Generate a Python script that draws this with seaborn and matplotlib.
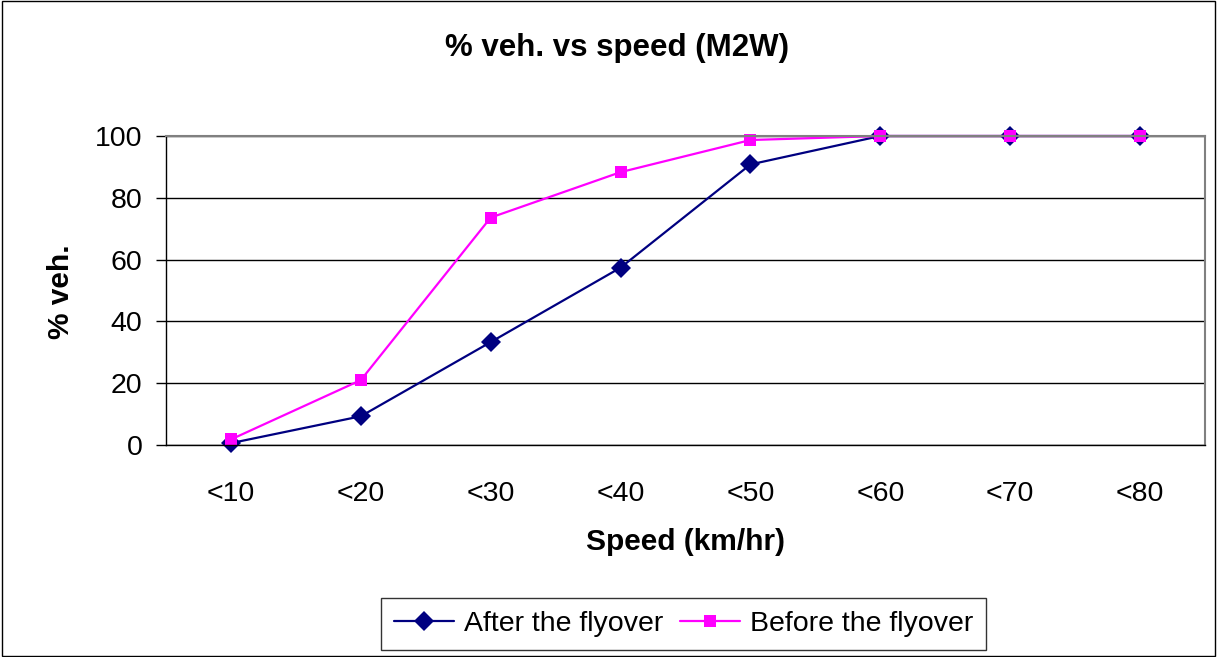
import matplotlib
matplotlib.use("Agg")
import matplotlib.pyplot as plt
import seaborn as sns
import pandas as pd
import numpy as np
from matplotlib.patches import Rectangle

speed = ["<10", "<20", "<30", "<40", "<50", "<60", "<70", "<80"]
after = [0.6, 9.3, 33.3, 57.4, 90.8, 100, 100, 100]
before = [1.8, 21.0, 73.6, 88.3, 98.7, 100, 100, 100]

sns.set_style("white")
plt.rcParams['font.family'] = ['Liberation Sans', 'DejaVu Sans']
plt.rcParams.update({"text.color": "black", "axes.labelcolor": "black",
                     "xtick.color": "black", "ytick.color": "black"})

df = pd.DataFrame({
    "pos": list(range(len(speed))) * 2,
    "val": after + before,
    "series": ["After the flyover"] * len(speed) + ["Before the flyover"] * len(speed),
})

fig = plt.figure(figsize=(12.17, 6.57), dpi=100)
ax = fig.add_axes([166 / 1217, 1 - 445 / 657, (1205 - 166) / 1217, (445 - 136) / 657])

sns.lineplot(data=df, x="pos", y="val", hue="series", style="series",
             palette={"After the flyover": "#000080", "Before the flyover": "#FF00FF"},
             markers={"After the flyover": "D", "Before the flyover": "s"},
             dashes=False, markersize=10, markeredgewidth=0, linewidth=1.6, ax=ax)
for ln in ax.lines:
    ln.set_clip_on(False)
    if ln.get_marker() == "s":
        ln.set_markersize(9)

ax.set_xlim(-0.5, len(speed) - 0.5)
ax.set_ylim(0, 100)
ax.set_yticks(np.arange(0, 101, 20))
ax.yaxis.grid(True, color="black", linewidth=1)
ax.set_axisbelow(True)
ax.set_xticks(range(len(speed)))
ax.set_xticklabels(speed)
ax.set_xticks(np.arange(-0.5, len(speed), 1), minor=True)
ax.tick_params(axis="x", which="major", length=0, labelsize=20.5, pad=26)
ax.tick_params(axis="x", which="minor", length=7, width=1, color="black", direction="out")
ax.tick_params(axis="y", length=7, width=1, labelsize=20.5, direction="out", left=True, pad=10)
for s in ["left", "bottom"]:
    ax.spines[s].set_color("black")
    ax.spines[s].set_linewidth(1)
for s in ["top", "right"]:
    ax.spines[s].set_color("#808080")
    ax.spines[s].set_linewidth(1.5)

ax.set_xlabel("Speed (km/hr)", fontsize=21.5, fontweight="bold")
ax.xaxis.set_label_coords(0.5, -0.269)
ax.set_ylabel("% veh.", fontsize=21.5, fontweight="bold")
ax.yaxis.set_label_coords(-0.088, 0.495)
fig.text(617 / 1217, 1 - 48 / 657, "% veh. vs speed (M2W)", fontsize=22.5, fontweight="bold",
         ha="center", va="center")

leg = ax.legend(loc="center", bbox_to_anchor=(683.5 / 1217, 1 - 624 / 657),
                bbox_transform=fig.transFigure, ncol=2, fontsize=20.5, frameon=True,
                fancybox=False, edgecolor="black", handlelength=2.1, columnspacing=0.6,
                handletextpad=0.35, borderpad=0.45, borderaxespad=0)
leg.get_frame().set_linewidth(1)

fig.patches.append(Rectangle((0.002, 0.002), 0.996, 0.996, transform=fig.transFigure,
                             fill=False, edgecolor="black", linewidth=1))

fig.savefig("out.png", dpi=100)
